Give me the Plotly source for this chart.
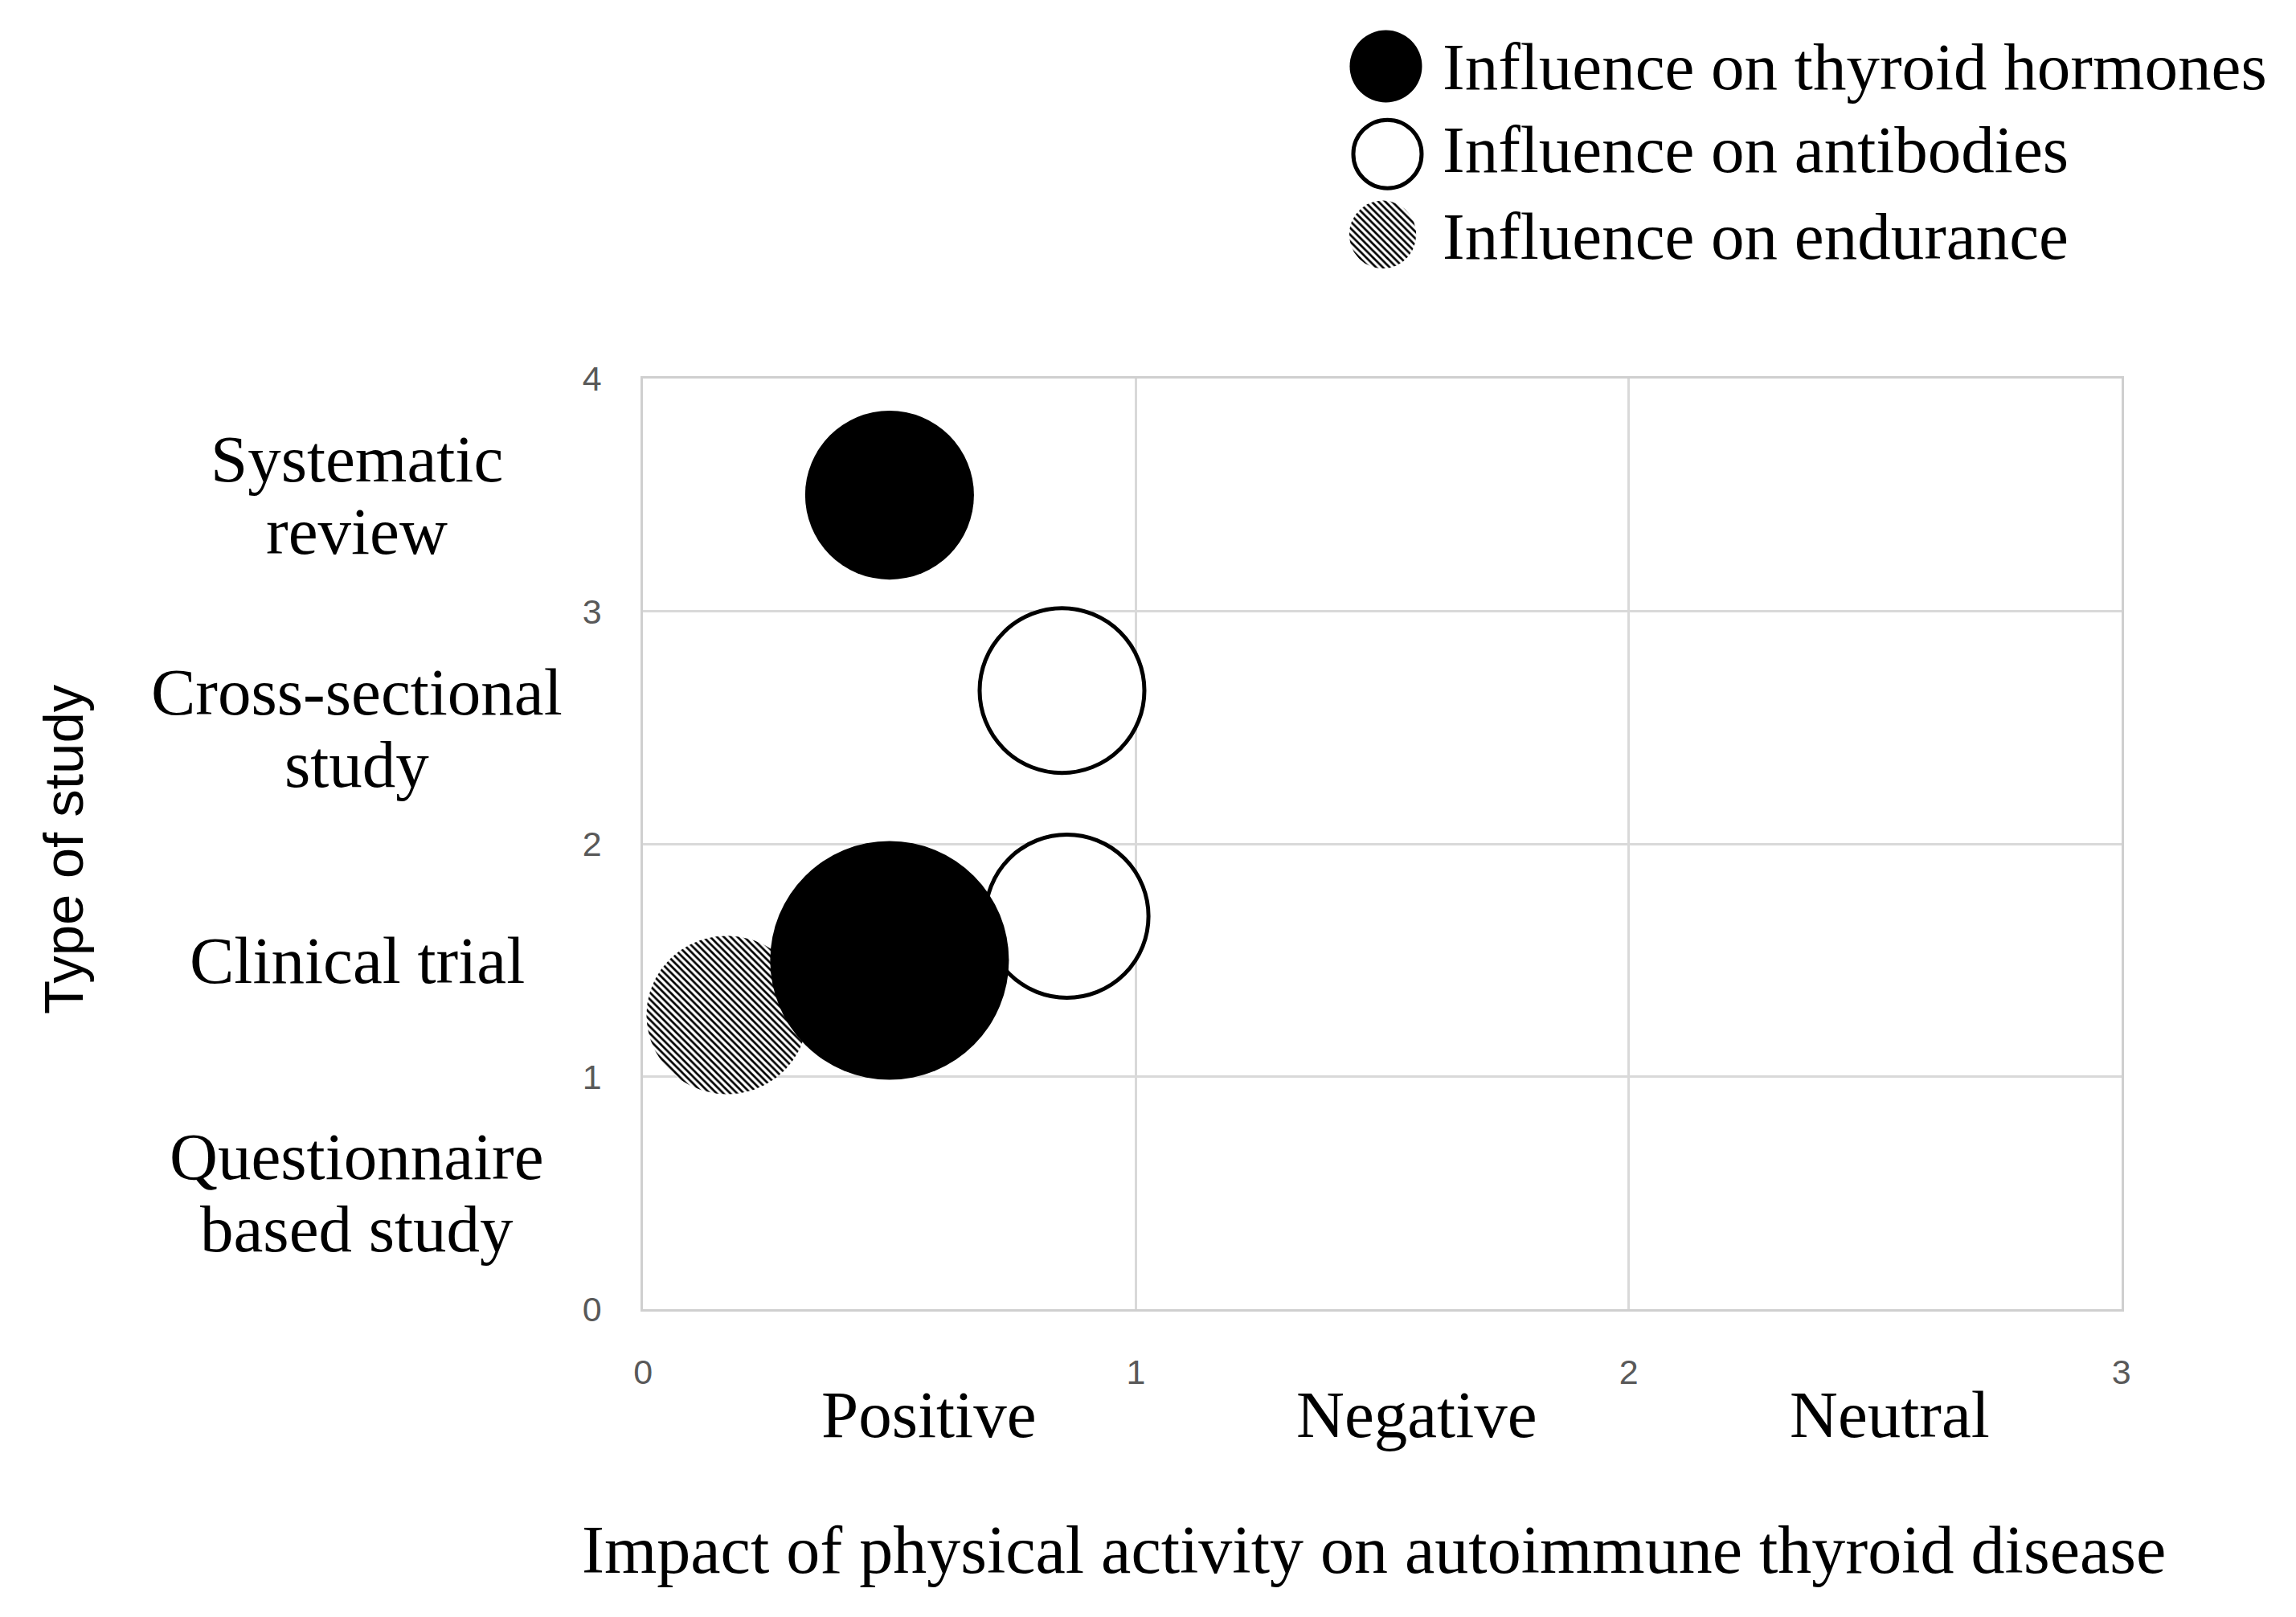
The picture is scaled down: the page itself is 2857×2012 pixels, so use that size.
import numpy as np
import plotly.graph_objects as go

W, H = 2857, 2012

# ---------------- data ----------------
x_tick_vals = [0, 1, 2, 3]
y_tick_vals = [0, 1, 2, 3, 4]

impact_labels = ["Positive", "Negative", "Neutral"]
impact_label_pos = [0.58, 1.57, 2.53]

study_types = [["Questionnaire", "based study"], ["Clinical trial"],
               ["Cross-sectional", "study"], ["Systematic", "review"]]
study_type_pos = [0.5, 1.5, 2.5, 3.5]

hormones_x = [0.50, 0.50]
hormones_y = [3.50, 1.50]
hormones_size = [1.05, 2.10]

antibodies_x = [0.85, 0.86]
antibodies_y = [2.66, 1.69]
antibodies_size = [1.00, 0.98]

endurance_x = [0.17]
endurance_y = [1.265]
endurance_size = [0.97]

legend_labels = ["Influence on thyroid hormones", "Influence on antibodies",
                 "Influence on endurance"]

x_title = "Impact of physical activity on autoimmune thyroid disease"
y_title = "Type of study"

# ---------------- layout constants ----------------
SERIF = "Liberation Serif, Times New Roman, serif"
SANS = "Liberation Sans, Arial, sans-serif"
SERIF_SIZE = 83

# screen-placement correction (measured offset/scale of the rendered page)
OFF_X, OFF_Y, SC_Y = 0.0, 21.0, 0.984


def sx(t):  # target screen px -> layout px (x)
    return t - OFF_X


def sy(t):  # target screen px -> layout px (y, from top)
    return (t - OFF_Y) / SC_Y


def paper_x(t):
    return sx(t) / W


def paper_y(t):
    return 1 - sy(t) / H


px_left, px_right, px_top, px_bottom = 795, 2650, 472, 1639
xdom = [paper_x(px_left), paper_x(px_right)]
ydom = [paper_y(px_bottom), paper_y(px_top)]
x_range = [0, 3]
y_range = [0, 4]
px_per_x = (sx(px_right) - sx(px_left)) / (x_range[1] - x_range[0])
px_per_y = (sy(px_bottom) - sy(px_top)) / (y_range[1] - y_range[0])

SIZEREF = 2.0 / 205 ** 2  # size 1 -> ~205 px diameter (area mode)


def bubble_diameter(v):
    return np.sqrt(2.0 * v / SIZEREF)


def circle_poly(cx, cy, r_px, kx, ky, n=160):
    t = np.linspace(0, 2 * np.pi, n)
    return cx + np.cos(t) * r_px / kx, cy + np.sin(t) * r_px / ky


HATCH = dict(shape="\\", fgcolor="black", bgcolor="white", size=6,
             solidity=0.45, fillmode="replace")

fig = go.Figure()

# antibodies (white circles)
fig.add_trace(go.Scatter(
    x=antibodies_x, y=antibodies_y, mode="markers", showlegend=False,
    marker=dict(size=antibodies_size, sizemode="area", sizeref=SIZEREF,
                color="white", line=dict(color="black", width=5), opacity=1),
    xaxis="x", yaxis="y", hoverinfo="skip"))

# endurance (hatched circles)
for ex, ey, es in zip(endurance_x, endurance_y, endurance_size):
    px_, py_ = circle_poly(ex, ey, bubble_diameter(es) / 2, px_per_x, px_per_y)
    fig.add_trace(go.Scatter(
        x=px_, y=py_, mode="lines", fill="toself", fillcolor="white",
        fillpattern=HATCH, line=dict(width=0, color="rgba(0,0,0,0)"),
        showlegend=False, xaxis="x", yaxis="y", hoverinfo="skip"))

# thyroid hormones (black circles)
fig.add_trace(go.Scatter(
    x=hormones_x, y=hormones_y, mode="markers", showlegend=False,
    marker=dict(size=hormones_size, sizemode="area", sizeref=SIZEREF,
                color="black", line=dict(color="black", width=0), opacity=1),
    xaxis="x", yaxis="y", hoverinfo="skip"))

# ---------------- custom legend in screen-pixel space (x2/y2) ----------------
leg_cx = [1727, 1729, 1723]
leg_cy = [80, 190, 291]
leg_text_y = [80, 184, 293]
fig.add_trace(go.Scatter(
    x=[leg_cx[0]], y=[leg_cy[0]], mode="markers", showlegend=False,
    marker=dict(size=90, color="black", line=dict(width=0)),
    xaxis="x2", yaxis="y2", hoverinfo="skip"))
fig.add_trace(go.Scatter(
    x=[leg_cx[1]], y=[leg_cy[1]], mode="markers", showlegend=False,
    marker=dict(size=85, color="white", line=dict(color="black", width=5)),
    xaxis="x2", yaxis="y2", hoverinfo="skip"))
lx, ly = circle_poly(leg_cx[2], leg_cy[2], 42, 1, SC_Y)
fig.add_trace(go.Scatter(
    x=lx, y=ly, mode="lines", fill="toself", fillcolor="white",
    fillpattern=HATCH, line=dict(width=0, color="rgba(0,0,0,0)"),
    showlegend=False, xaxis="x2", yaxis="y2", hoverinfo="skip"))

annotations = []
for lab, ty in zip(legend_labels, leg_text_y):
    annotations.append(dict(x=1796, y=ty, xref="x2", yref="y2", text=lab,
                            showarrow=False, xanchor="left", yanchor="middle",
                            font=dict(family=SERIF, size=SERIF_SIZE, color="black")))

# impact category labels under x axis
for lab, xp in zip(impact_labels, impact_label_pos):
    annotations.append(dict(x=xp, y=paper_y(1771), xref="x", yref="paper", text=lab,
                            showarrow=False, xanchor="center", yanchor="middle",
                            font=dict(family=SERIF, size=SERIF_SIZE, color="black")))

# study type labels left of y axis
LINE_GAP = 90
for lines, yp in zip(study_types, study_type_pos):
    n = len(lines)
    for i, ln in enumerate(lines):
        shift = ((n - 1) / 2 - i) * LINE_GAP
        annotations.append(dict(x=paper_x(436), y=yp, xref="paper", yref="y", text=ln,
                                showarrow=False, xanchor="center", yanchor="middle",
                                yshift=shift,
                                font=dict(family=SERIF, size=SERIF_SIZE, color="black")))

# axis titles
annotations.append(dict(x=paper_x(1712), y=paper_y(1941), xref="paper", yref="paper",
                        text=x_title, showarrow=False, xanchor="center", yanchor="middle",
                        font=dict(family=SERIF, size=84, color="black")))
annotations.append(dict(x=paper_x(68), y=paper_y(1062), xref="paper", yref="paper",
                        text=y_title, showarrow=False, xanchor="center", yanchor="middle",
                        textangle=-90,
                        font=dict(family=SANS, size=69, color="black")))

GRID = "#d9d9d9"
fig.update_layout(
    width=W, height=H,
    margin=dict(l=0, r=0, t=0, b=0, pad=0),
    paper_bgcolor="white", plot_bgcolor="rgba(0,0,0,0)",
    showlegend=False,
    xaxis=dict(domain=xdom, range=x_range, tickmode="array", tickvals=x_tick_vals,
               showgrid=True, gridcolor=GRID, gridwidth=3, zeroline=False,
               showline=True, linecolor="#cfcfcf", linewidth=3, mirror=True,
               ticks="", ticklabelstandoff=38,
               tickfont=dict(family=SANS, size=43, color="#595959"),
               anchor="y", fixedrange=True),
    yaxis=dict(domain=ydom, range=y_range, tickmode="array", tickvals=y_tick_vals,
               showgrid=True, gridcolor=GRID, gridwidth=3, zeroline=False,
               showline=True, linecolor="#cfcfcf", linewidth=3, mirror=True,
               ticks="", ticklabelstandoff=40,
               tickfont=dict(family=SANS, size=43, color="#595959"),
               anchor="x", fixedrange=True),
    xaxis2=dict(domain=[0, 1], range=[OFF_X, W + OFF_X], visible=False, anchor="y2",
                fixedrange=True),
    yaxis2=dict(domain=[0, 1], range=[SC_Y * H + OFF_Y, OFF_Y], visible=False,
                anchor="x2", fixedrange=True),
    annotations=annotations,
)

fig.write_html("out.html", config={"displayModeBar": False},
               post_script="document.body.style.margin='0';document.body.style.overflow='hidden';")
